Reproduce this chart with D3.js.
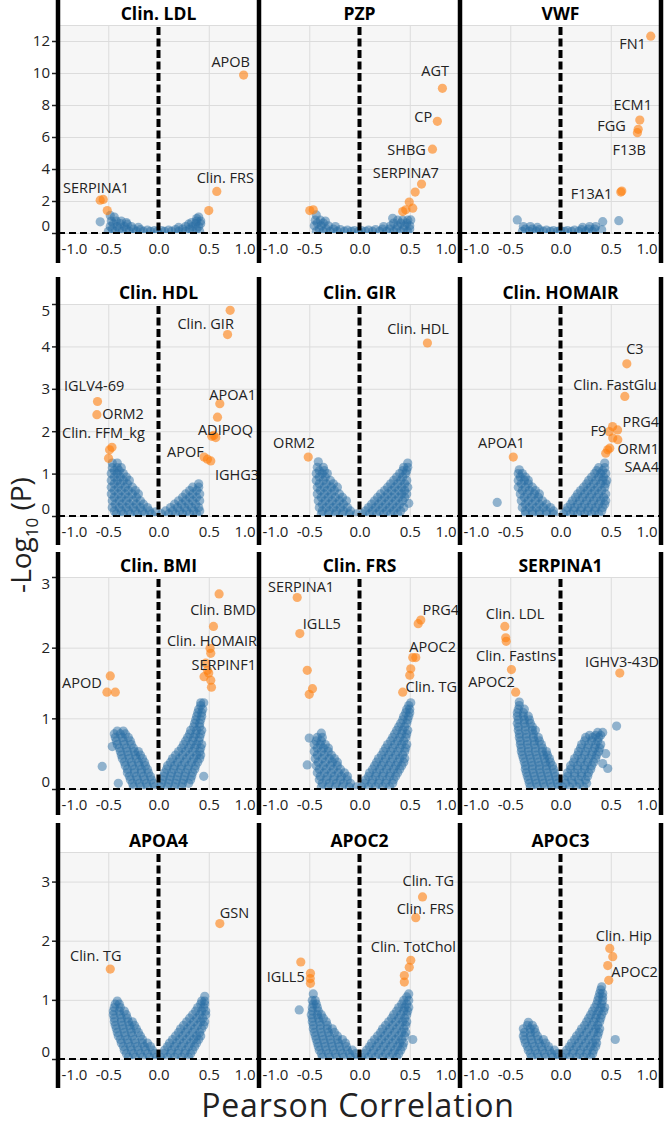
<!DOCTYPE html>
<html><head><meta charset="utf-8">
<script src="https://cdn.jsdelivr.net/npm/d3@7"></script>
<style>body{margin:0;background:#fff}</style>
</head><body><svg id="c" width="666" height="1126"></svg>
<script>
// ---------- DATA ----------
const panelTitles = ["Clin. LDL","PZP","VWF","Clin. HDL","Clin. GIR","Clin. HOMAIR","Clin. BMI","Clin. FRS","SERPINA1","APOA4","APOC2","APOC3"];
const rowYMax = [13,5,3,3.5];
const rowYTicks = [[0,2,4,6,8,10,12],[0,1,2,3,4,5],[0,1,2,3],[0,1,2,3]];
const xTicks = [-1,-0.5,0,0.5,1];
const xTickLabels = ["-1.0","-0.5","0.0","0.5","1.0"];
const xTitle = "Pearson Correlation";

// non-significant proteins [r, -log10 p]
const blueLDL = [[-0.5,0.1],[-0.43,0.1],[-0.36,0.1],[-0.29,0.1],[-0.22,0.1],[-0.15,0.1],[-0.08,0.1],[-0.01,0.1],[0.06,0.1],[0.13,0.1],[0.2,0.1],[0.27,0.1],[0.34,0.1],[0.41,0.1],
  [-0.46,0.25],[-0.39,0.25],[-0.32,0.25],[-0.25,0.25],[-0.18,0.22],[-0.11,0.18],[-0.04,0.15],[0.03,0.15],[0.1,0.18],[0.17,0.22],[0.24,0.25],[0.31,0.25],[0.38,0.25],
  [-0.48,0.4],[-0.41,0.4],[-0.34,0.4],[-0.27,0.4],[-0.2,0.35],[0.2,0.35],[0.27,0.4],[0.34,0.4],[0.4,0.4],
  [-0.45,0.58],[-0.38,0.58],[-0.31,0.55],[0.3,0.55],[0.37,0.58],[0.42,0.58],
  [-0.47,0.75],[-0.42,0.75],[-0.37,0.75],[-0.32,0.65],[0.33,0.65],[0.38,0.75],[0.42,0.75],
  [-0.58,0.7],[-0.48,1.1],[0.4,1.0],[0.38,0.9],[-0.44,1.0]];
const bluePZP = [[-0.43,0.1],[-0.36,0.1],[-0.29,0.1],[-0.22,0.1],[-0.15,0.1],[-0.08,0.1],[-0.01,0.1],[0.06,0.1],[0.13,0.1],[0.2,0.1],[0.27,0.1],[0.34,0.1],[0.41,0.1],[0.48,0.1],
  [-0.4,0.25],[-0.33,0.25],[-0.26,0.25],[-0.19,0.22],[-0.12,0.18],[-0.05,0.15],[0.02,0.15],[0.09,0.18],[0.16,0.22],[0.23,0.25],[0.3,0.25],[0.37,0.25],[0.44,0.25],[0.5,0.25],
  [-0.45,0.45],[-0.38,0.45],[-0.31,0.45],[-0.24,0.4],[0.24,0.4],[0.31,0.45],[0.38,0.45],[0.45,0.45],[0.5,0.45],
  [-0.42,0.62],[-0.36,0.62],[0.34,0.62],[0.41,0.62],[0.47,0.62],
  [-0.44,0.8],[-0.39,0.8],[-0.34,0.75],[0.38,0.8],[0.43,0.8],[0.48,0.8],
  [-0.43,1.13],[0.33,0.92],[0.51,0.82]];
const blueVWF = [[-0.38,0.1],[-0.31,0.1],[-0.24,0.1],[-0.17,0.1],[-0.1,0.1],[-0.03,0.1],[0.04,0.1],[0.11,0.1],[0.18,0.1],[0.25,0.1],[0.32,0.1],
  [-0.35,0.25],[-0.28,0.25],[-0.21,0.22],[-0.14,0.18],[-0.07,0.15],[0.0,0.15],[0.07,0.15],[0.14,0.18],[0.21,0.22],[0.28,0.25],[0.34,0.25],
  [-0.37,0.4],[-0.3,0.4],[-0.23,0.35],[0.22,0.35],[0.29,0.4],[0.35,0.4],
  [-0.43,0.82],[0.42,0.71],[0.58,0.77],[0.41,0.2]];
const blueHDL = [[-0.42,0.05],[-0.35,0.05],[-0.28,0.05],[-0.21,0.05],[-0.14,0.05],[-0.07,0.05],
  [-0.44,0.12],[-0.37,0.12],[-0.3,0.12],[-0.23,0.12],[-0.16,0.12],[-0.09,0.12],[-0.03,0.1],
  [-0.46,0.2],[-0.39,0.2],[-0.32,0.2],[-0.25,0.2],[-0.18,0.2],[-0.11,0.2],
  [-0.43,0.28],[-0.36,0.28],[-0.29,0.28],[-0.22,0.28],[-0.15,0.28],
  [-0.46,0.36],[-0.39,0.36],[-0.32,0.36],[-0.25,0.36],[-0.18,0.36],
  [-0.44,0.44],[-0.37,0.44],[-0.3,0.44],[-0.22,0.44],
  [-0.47,0.52],[-0.4,0.52],[-0.33,0.52],[-0.26,0.52],[-0.2,0.52],
  [-0.44,0.6],[-0.37,0.6],[-0.3,0.6],[-0.23,0.6],
  [-0.47,0.68],[-0.4,0.68],[-0.33,0.68],[-0.26,0.68],
  [-0.44,0.76],[-0.38,0.76],[-0.31,0.76],
  [-0.47,0.84],[-0.41,0.84],[-0.35,0.84],[-0.29,0.84],
  [-0.44,0.92],[-0.38,0.92],[-0.32,0.92],
  [-0.47,1.0],[-0.41,1.0],[-0.35,1.0],
  [-0.44,1.07],[-0.39,1.07],
  [-0.46,1.14],[-0.41,1.14],[-0.37,1.14],
  [-0.46,1.25],[-0.41,1.25],
  [0.03,0.05],[0.1,0.05],[0.17,0.05],[0.24,0.05],[0.31,0.05],[0.38,0.05],
  [0.07,0.12],[0.14,0.12],[0.21,0.12],[0.28,0.12],[0.35,0.12],[0.41,0.12],
  [0.12,0.2],[0.19,0.2],[0.26,0.2],[0.33,0.2],[0.4,0.2],
  [0.16,0.28],[0.23,0.28],[0.3,0.28],[0.37,0.28],
  [0.2,0.36],[0.27,0.36],[0.34,0.36],[0.41,0.36],
  [0.24,0.44],[0.31,0.44],[0.38,0.44],
  [0.27,0.52],[0.34,0.52],[0.41,0.52],
  [0.31,0.6],[0.38,0.6],
  [0.34,0.68],[0.4,0.68],[0.4,0.76]];
const blueGIR = [[-0.38,0.05],[-0.31,0.05],[-0.24,0.05],[-0.17,0.05],[-0.1,0.05],[-0.03,0.05],
  [-0.37,0.12],[-0.3,0.12],[-0.23,0.12],[-0.16,0.12],[-0.09,0.12],
  [-0.4,0.2],[-0.33,0.2],[-0.26,0.2],[-0.19,0.2],[-0.12,0.2],
  [-0.37,0.28],[-0.3,0.28],[-0.23,0.28],[-0.16,0.28],
  [-0.41,0.36],[-0.34,0.36],[-0.27,0.36],[-0.2,0.36],[-0.13,0.36],
  [-0.38,0.44],[-0.31,0.44],[-0.24,0.44],[-0.17,0.44],
  [-0.42,0.52],[-0.35,0.52],[-0.28,0.52],[-0.2,0.52],
  [-0.39,0.6],[-0.32,0.6],[-0.25,0.6],
  [-0.42,0.68],[-0.35,0.68],[-0.28,0.68],[-0.22,0.68],
  [-0.4,0.76],[-0.33,0.76],[-0.26,0.76],
  [-0.43,0.84],[-0.36,0.84],[-0.29,0.84],
  [-0.4,0.92],[-0.34,0.92],
  [-0.43,1.0],[-0.37,1.0],[-0.32,1.0],
  [-0.4,1.07],[-0.35,1.07],
  [-0.42,1.15],[-0.36,1.15],[-0.41,1.28],
  [0.03,0.05],[0.1,0.05],[0.17,0.05],[0.24,0.05],[0.31,0.05],[0.38,0.05],
  [0.06,0.12],[0.13,0.12],[0.2,0.12],[0.27,0.12],[0.34,0.12],[0.41,0.12],
  [0.09,0.2],[0.16,0.2],[0.23,0.2],[0.3,0.2],[0.37,0.2],[0.44,0.2],
  [0.12,0.28],[0.19,0.28],[0.26,0.28],[0.33,0.28],[0.4,0.28],[0.49,0.3],
  [0.15,0.36],[0.22,0.36],[0.29,0.36],[0.36,0.36],[0.43,0.36],
  [0.18,0.44],[0.25,0.44],[0.32,0.44],[0.39,0.44],[0.45,0.44],
  [0.21,0.52],[0.28,0.52],[0.35,0.52],[0.42,0.52],[0.47,0.52],
  [0.25,0.6],[0.32,0.6],[0.39,0.6],[0.45,0.6],
  [0.28,0.68],[0.35,0.68],[0.42,0.68],[0.48,0.68],
  [0.31,0.76],[0.38,0.76],[0.45,0.76],
  [0.34,0.84],[0.41,0.84],[0.47,0.84],
  [0.37,0.92],[0.43,0.92],
  [0.4,1.0],[0.46,1.0],[0.43,1.07],[0.47,1.07],
  [0.44,1.15],[0.48,1.15],[0.48,1.25]];
const blueHOMAIR = [[-0.35,0.05],[-0.28,0.05],[-0.21,0.05],[-0.14,0.05],[-0.07,0.05],
  [-0.35,0.12],[-0.28,0.12],[-0.21,0.12],[-0.14,0.12],[-0.07,0.12],
  [-0.38,0.2],[-0.31,0.2],[-0.24,0.2],[-0.17,0.2],[-0.1,0.2],
  [-0.35,0.28],[-0.28,0.28],[-0.21,0.28],[-0.14,0.28],
  [-0.39,0.36],[-0.32,0.36],[-0.25,0.36],[-0.18,0.36],
  [-0.36,0.44],[-0.29,0.44],[-0.22,0.44],
  [-0.4,0.52],[-0.33,0.52],[-0.26,0.52],[-0.21,0.52],
  [-0.38,0.6],[-0.31,0.6],[-0.25,0.6],
  [-0.42,0.68],[-0.35,0.68],[-0.28,0.68],
  [-0.39,0.76],[-0.32,0.76],
  [-0.42,0.84],[-0.36,0.84],[-0.32,0.84],
  [-0.4,0.92],[-0.35,0.92],
  [-0.42,1.0],[-0.38,1.0],[-0.41,1.09],[-0.63,0.32],
  [0.03,0.05],[0.1,0.05],[0.17,0.05],[0.24,0.05],[0.31,0.05],[0.38,0.05],
  [0.06,0.12],[0.13,0.12],[0.2,0.12],[0.27,0.12],[0.34,0.12],[0.41,0.12],
  [0.07,0.2],[0.14,0.2],[0.21,0.2],[0.28,0.2],[0.35,0.2],[0.42,0.2],
  [0.1,0.28],[0.17,0.28],[0.24,0.28],[0.31,0.28],[0.38,0.28],[0.44,0.28],
  [0.12,0.36],[0.19,0.36],[0.26,0.36],[0.33,0.36],[0.4,0.36],[0.45,0.36],
  [0.15,0.44],[0.22,0.44],[0.29,0.44],[0.36,0.44],[0.43,0.44],
  [0.17,0.52],[0.24,0.52],[0.31,0.52],[0.38,0.52],[0.45,0.52],
  [0.2,0.6],[0.27,0.6],[0.34,0.6],[0.41,0.6],
  [0.23,0.68],[0.3,0.68],[0.37,0.68],[0.44,0.68],
  [0.26,0.76],[0.33,0.76],[0.4,0.76],[0.45,0.76],
  [0.28,0.84],[0.35,0.84],[0.42,0.84],[0.46,0.84],
  [0.31,0.92],[0.38,0.92],[0.43,0.92],
  [0.34,1.0],[0.4,1.0],[0.45,1.0],
  [0.36,1.07],[0.42,1.07],
  [0.38,1.14],[0.44,1.14],[0.44,1.25]];
const blueBMI = [[-0.25,0.03],[-0.18,0.03],[-0.11,0.03],[-0.04,0.03],
  [-0.26,0.08],[-0.19,0.08],[-0.12,0.08],[-0.05,0.08],
  [-0.28,0.13],[-0.21,0.13],[-0.14,0.13],[-0.07,0.13],
  [-0.29,0.18],[-0.22,0.18],[-0.15,0.18],[-0.08,0.18],
  [-0.31,0.23],[-0.24,0.23],[-0.17,0.23],[-0.1,0.23],
  [-0.31,0.28],[-0.24,0.28],[-0.17,0.28],[-0.11,0.28],
  [-0.33,0.33],[-0.26,0.33],[-0.19,0.33],[-0.13,0.33],
  [-0.34,0.38],[-0.27,0.38],[-0.2,0.38],[-0.14,0.38],
  [-0.36,0.43],[-0.29,0.43],[-0.22,0.43],[-0.16,0.43],
  [-0.37,0.48],[-0.3,0.48],[-0.23,0.48],[-0.18,0.48],
  [-0.38,0.53],[-0.31,0.53],[-0.24,0.53],[-0.2,0.53],
  [-0.39,0.58],[-0.32,0.58],[-0.25,0.58],
  [-0.41,0.63],[-0.34,0.63],[-0.27,0.63],
  [-0.42,0.68],[-0.35,0.68],[-0.28,0.68],
  [-0.43,0.73],[-0.36,0.73],[-0.3,0.73],
  [-0.44,0.78],[-0.38,0.78],[-0.33,0.78],
  [-0.41,0.82],[-0.35,0.82],
  [-0.56,0.32],[-0.4,0.08],[-0.46,0.6],
  [0.02,0.03],[0.09,0.03],[0.16,0.03],[0.23,0.03],
  [0.03,0.08],[0.1,0.08],[0.17,0.08],[0.24,0.08],[0.3,0.08],
  [0.04,0.13],[0.11,0.13],[0.18,0.13],[0.25,0.13],[0.32,0.13],
  [0.05,0.18],[0.12,0.18],[0.19,0.18],[0.26,0.18],[0.33,0.18],
  [0.06,0.23],[0.13,0.23],[0.2,0.23],[0.27,0.23],[0.34,0.23],
  [0.08,0.28],[0.15,0.28],[0.22,0.28],[0.29,0.28],[0.36,0.28],
  [0.09,0.33],[0.16,0.33],[0.23,0.33],[0.3,0.33],[0.37,0.33],
  [0.12,0.38],[0.19,0.38],[0.26,0.38],[0.33,0.38],[0.39,0.38],
  [0.14,0.43],[0.21,0.43],[0.28,0.43],[0.35,0.43],[0.41,0.43],
  [0.17,0.48],[0.24,0.48],[0.31,0.48],[0.38,0.48],[0.42,0.48],
  [0.2,0.53],[0.27,0.53],[0.34,0.53],[0.41,0.53],
  [0.23,0.58],[0.3,0.58],[0.36,0.58],[0.42,0.58],
  [0.25,0.63],[0.32,0.63],[0.38,0.63],[0.43,0.63],
  [0.27,0.68],[0.34,0.68],[0.4,0.68],
  [0.29,0.73],[0.35,0.73],[0.41,0.73],
  [0.31,0.78],[0.37,0.78],[0.42,0.78],
  [0.32,0.83],[0.38,0.83],[0.43,0.83],
  [0.35,0.88],[0.41,0.88],
  [0.36,0.93],[0.41,0.93],
  [0.37,0.98],[0.42,0.98],
  [0.38,1.03],[0.43,1.03],
  [0.39,1.08],[0.43,1.08],
  [0.4,1.13],[0.44,1.13],[0.42,1.18],
  [0.42,1.22],[0.45,1.22],[0.45,0.18]];
const blueFRS = [[-0.38,0.03],[-0.31,0.03],[-0.24,0.03],[-0.17,0.03],[-0.1,0.03],[-0.03,0.03],
  [-0.37,0.08],[-0.3,0.08],[-0.23,0.08],[-0.16,0.08],[-0.09,0.08],
  [-0.4,0.13],[-0.33,0.13],[-0.26,0.13],[-0.19,0.13],[-0.12,0.13],
  [-0.39,0.18],[-0.32,0.18],[-0.25,0.18],[-0.18,0.18],[-0.12,0.18],
  [-0.42,0.23],[-0.35,0.23],[-0.28,0.23],[-0.21,0.23],[-0.15,0.23],
  [-0.4,0.28],[-0.33,0.28],[-0.26,0.28],[-0.19,0.28],
  [-0.43,0.33],[-0.36,0.33],[-0.29,0.33],[-0.22,0.33],
  [-0.41,0.38],[-0.34,0.38],[-0.27,0.38],[-0.22,0.38],
  [-0.44,0.43],[-0.37,0.43],[-0.3,0.43],[-0.25,0.43],
  [-0.42,0.48],[-0.35,0.48],[-0.28,0.48],
  [-0.45,0.53],[-0.38,0.53],[-0.31,0.53],
  [-0.42,0.58],[-0.36,0.58],[-0.31,0.58],
  [-0.45,0.63],[-0.39,0.63],[-0.34,0.63],
  [-0.43,0.68],[-0.38,0.68],
  [-0.5,0.72],[-0.42,0.73],[-0.37,0.73],
  [-0.52,0.34],[-0.38,0.79],
  [0.02,0.03],[0.09,0.03],[0.16,0.03],[0.23,0.03],[0.3,0.03],
  [0.05,0.08],[0.12,0.08],[0.19,0.08],[0.26,0.08],[0.33,0.08],
  [0.06,0.13],[0.13,0.13],[0.2,0.13],[0.27,0.13],[0.34,0.13],
  [0.09,0.18],[0.16,0.18],[0.23,0.18],[0.3,0.18],[0.36,0.18],
  [0.1,0.23],[0.17,0.23],[0.24,0.23],[0.31,0.23],[0.38,0.23],
  [0.13,0.28],[0.2,0.28],[0.27,0.28],[0.34,0.28],[0.4,0.28],
  [0.15,0.33],[0.22,0.33],[0.29,0.33],[0.36,0.33],[0.42,0.33],
  [0.17,0.38],[0.24,0.38],[0.31,0.38],[0.38,0.38],[0.44,0.38],
  [0.19,0.43],[0.26,0.43],[0.33,0.43],[0.4,0.43],[0.45,0.43],
  [0.22,0.48],[0.29,0.48],[0.36,0.48],[0.43,0.48],
  [0.24,0.53],[0.31,0.53],[0.38,0.53],[0.45,0.53],
  [0.26,0.58],[0.33,0.58],[0.4,0.58],[0.46,0.58],
  [0.28,0.63],[0.35,0.63],[0.42,0.63],[0.47,0.63],
  [0.31,0.68],[0.38,0.68],[0.44,0.68],
  [0.33,0.73],[0.4,0.73],[0.46,0.73],
  [0.35,0.78],[0.42,0.78],[0.47,0.78],
  [0.37,0.83],[0.43,0.83],[0.48,0.83],
  [0.39,0.88],[0.45,0.88],
  [0.41,0.93],[0.47,0.93],
  [0.43,0.98],[0.48,0.98],
  [0.44,1.03],[0.49,1.03],
  [0.46,1.08],[0.5,1.08],
  [0.47,1.13],[0.5,1.13],[0.49,1.18],[0.51,1.22]];
const blueSERPINA1 = [[-0.3,0.03],[-0.23,0.03],[-0.16,0.03],[-0.09,0.03],[-0.02,0.03],
  [-0.31,0.08],[-0.24,0.08],[-0.17,0.08],[-0.1,0.08],[-0.03,0.08],
  [-0.32,0.13],[-0.25,0.13],[-0.18,0.13],[-0.11,0.13],[-0.04,0.13],
  [-0.33,0.18],[-0.26,0.18],[-0.19,0.18],[-0.12,0.18],[-0.05,0.18],
  [-0.34,0.23],[-0.27,0.23],[-0.2,0.23],[-0.13,0.23],[-0.06,0.23],
  [-0.35,0.28],[-0.28,0.28],[-0.21,0.28],[-0.14,0.28],[-0.07,0.28],
  [-0.35,0.33],[-0.28,0.33],[-0.21,0.33],[-0.14,0.33],[-0.08,0.33],
  [-0.36,0.38],[-0.29,0.38],[-0.22,0.38],[-0.15,0.38],[-0.1,0.38],
  [-0.37,0.43],[-0.3,0.43],[-0.23,0.43],[-0.16,0.43],[-0.11,0.43],
  [-0.38,0.48],[-0.31,0.48],[-0.24,0.48],[-0.17,0.48],[-0.13,0.48],
  [-0.39,0.53],[-0.32,0.53],[-0.25,0.53],[-0.18,0.53],[-0.14,0.53],
  [-0.39,0.58],[-0.32,0.58],[-0.25,0.58],[-0.18,0.58],
  [-0.4,0.63],[-0.33,0.63],[-0.26,0.63],[-0.19,0.63],
  [-0.4,0.68],[-0.33,0.68],[-0.26,0.68],[-0.21,0.68],
  [-0.41,0.73],[-0.34,0.73],[-0.27,0.73],[-0.22,0.73],
  [-0.41,0.78],[-0.34,0.78],[-0.27,0.78],
  [-0.42,0.83],[-0.35,0.83],[-0.28,0.83],[-0.25,0.83],
  [-0.42,0.88],[-0.35,0.88],[-0.28,0.88],
  [-0.43,0.93],[-0.36,0.93],[-0.3,0.93],
  [-0.42,0.98],[-0.36,0.98],[-0.31,0.98],
  [-0.43,1.03],[-0.37,1.03],[-0.32,1.03],
  [-0.43,1.08],[-0.37,1.08],
  [-0.42,1.13],[-0.36,1.13],[-0.41,1.18],[-0.41,1.23],
  [0.02,0.03],[0.09,0.03],[0.16,0.03],[0.23,0.03],
  [0.05,0.08],[0.12,0.08],[0.19,0.08],[0.26,0.08],
  [0.04,0.13],[0.11,0.13],[0.18,0.13],[0.25,0.13],
  [0.07,0.18],[0.14,0.18],[0.21,0.18],[0.27,0.18],
  [0.07,0.23],[0.14,0.23],[0.21,0.23],[0.28,0.23],
  [0.1,0.28],[0.17,0.28],[0.24,0.28],[0.3,0.28],
  [0.1,0.33],[0.17,0.33],[0.24,0.33],[0.31,0.33],
  [0.13,0.38],[0.2,0.38],[0.27,0.38],[0.33,0.38],
  [0.14,0.43],[0.21,0.43],[0.28,0.43],[0.35,0.43],
  [0.17,0.48],[0.24,0.48],[0.31,0.48],[0.36,0.48],
  [0.18,0.53],[0.25,0.53],[0.32,0.53],[0.38,0.53],
  [0.2,0.58],[0.27,0.58],[0.34,0.58],[0.39,0.58],
  [0.21,0.63],[0.28,0.63],[0.35,0.63],[0.4,0.63],
  [0.24,0.68],[0.31,0.68],[0.37,0.68],
  [0.25,0.73],[0.32,0.73],[0.38,0.73],
  [0.29,0.76],[0.35,0.76],[0.4,0.76],
  [0.37,0.8],[0.42,0.8],
  [0.558,0.89],[0.47,0.29],[0.42,0.36],[0.45,0.5]];
const blueAPOA4 = [[-0.3,0.03],[-0.23,0.03],[-0.16,0.03],[-0.09,0.03],[-0.02,0.03],
  [-0.32,0.09],[-0.25,0.09],[-0.18,0.09],[-0.11,0.09],[-0.04,0.09],
  [-0.34,0.15],[-0.27,0.15],[-0.2,0.15],[-0.13,0.15],[-0.06,0.15],
  [-0.35,0.21],[-0.28,0.21],[-0.21,0.21],[-0.14,0.21],[-0.08,0.21],
  [-0.37,0.27],[-0.3,0.27],[-0.23,0.27],[-0.16,0.27],[-0.11,0.27],
  [-0.38,0.33],[-0.31,0.33],[-0.24,0.33],[-0.16,0.33],
  [-0.4,0.39],[-0.33,0.39],[-0.26,0.39],[-0.18,0.39],
  [-0.41,0.45],[-0.34,0.45],[-0.27,0.45],[-0.2,0.45],
  [-0.42,0.51],[-0.35,0.51],[-0.28,0.51],[-0.22,0.51],
  [-0.43,0.57],[-0.36,0.57],[-0.29,0.57],[-0.24,0.57],
  [-0.44,0.63],[-0.37,0.63],[-0.3,0.63],[-0.26,0.63],
  [-0.44,0.69],[-0.37,0.69],[-0.31,0.69],
  [-0.45,0.75],[-0.38,0.75],[-0.32,0.75],
  [-0.45,0.81],[-0.39,0.81],[-0.34,0.81],
  [-0.44,0.87],[-0.38,0.87],
  [-0.43,0.93],[-0.39,0.93],[-0.41,0.98],
  [0.02,0.03],[0.09,0.03],[0.16,0.03],[0.23,0.03],[0.3,0.03],
  [0.05,0.09],[0.12,0.09],[0.19,0.09],[0.26,0.09],[0.32,0.09],
  [0.06,0.15],[0.13,0.15],[0.2,0.15],[0.27,0.15],[0.34,0.15],
  [0.09,0.21],[0.16,0.21],[0.23,0.21],[0.3,0.21],[0.36,0.21],
  [0.11,0.27],[0.18,0.27],[0.25,0.27],[0.32,0.27],[0.38,0.27],
  [0.14,0.33],[0.21,0.33],[0.28,0.33],[0.35,0.33],[0.4,0.33],
  [0.17,0.39],[0.24,0.39],[0.31,0.39],[0.38,0.39],[0.42,0.39],
  [0.2,0.45],[0.27,0.45],[0.34,0.45],[0.41,0.45],
  [0.22,0.51],[0.29,0.51],[0.36,0.51],[0.43,0.51],
  [0.25,0.57],[0.32,0.57],[0.39,0.57],[0.45,0.57],
  [0.28,0.63],[0.35,0.63],[0.42,0.63],[0.46,0.63],
  [0.31,0.69],[0.38,0.69],[0.44,0.69],
  [0.34,0.75],[0.41,0.75],[0.47,0.75],
  [0.37,0.81],[0.43,0.81],[0.47,0.81],
  [0.39,0.87],[0.45,0.87],
  [0.42,0.93],[0.46,0.93],
  [0.43,0.98],[0.46,0.98],[0.46,1.06]];
const blueAPOC2 = [[-0.37,0.03],[-0.3,0.03],[-0.23,0.03],[-0.16,0.03],[-0.09,0.03],[-0.02,0.03],
  [-0.38,0.09],[-0.31,0.09],[-0.24,0.09],[-0.17,0.09],[-0.1,0.09],[-0.04,0.09],
  [-0.4,0.15],[-0.33,0.15],[-0.26,0.15],[-0.19,0.15],[-0.12,0.15],[-0.07,0.15],
  [-0.41,0.21],[-0.34,0.21],[-0.27,0.21],[-0.2,0.21],[-0.13,0.21],
  [-0.42,0.27],[-0.35,0.27],[-0.28,0.27],[-0.21,0.27],[-0.14,0.27],
  [-0.43,0.33],[-0.36,0.33],[-0.29,0.33],[-0.22,0.33],[-0.17,0.33],
  [-0.44,0.39],[-0.37,0.39],[-0.3,0.39],[-0.22,0.39],
  [-0.45,0.45],[-0.38,0.45],[-0.31,0.45],[-0.25,0.45],
  [-0.46,0.51],[-0.39,0.51],[-0.32,0.51],[-0.27,0.51],
  [-0.46,0.57],[-0.39,0.57],[-0.32,0.57],
  [-0.47,0.63],[-0.4,0.63],[-0.33,0.63],
  [-0.47,0.69],[-0.41,0.69],[-0.36,0.69],
  [-0.48,0.75],[-0.42,0.75],[-0.38,0.75],
  [-0.47,0.81],[-0.41,0.81],
  [-0.47,0.87],[-0.42,0.87],
  [-0.46,0.93],[-0.43,0.93],
  [-0.47,0.99],[-0.44,0.99],[-0.46,1.1],[-0.6,0.83],
  [0.02,0.03],[0.09,0.03],[0.16,0.03],[0.23,0.03],[0.3,0.03],[0.37,0.03],
  [0.05,0.09],[0.12,0.09],[0.19,0.09],[0.26,0.09],[0.33,0.09],[0.39,0.09],
  [0.07,0.15],[0.14,0.15],[0.21,0.15],[0.28,0.15],[0.35,0.15],[0.41,0.15],
  [0.1,0.21],[0.17,0.21],[0.24,0.21],[0.31,0.21],[0.38,0.21],[0.43,0.21],
  [0.12,0.27],[0.19,0.27],[0.26,0.27],[0.33,0.27],[0.4,0.27],[0.44,0.27],
  [0.15,0.33],[0.22,0.33],[0.29,0.33],[0.36,0.33],[0.42,0.33],
  [0.18,0.39],[0.25,0.39],[0.32,0.39],[0.39,0.39],[0.45,0.39],
  [0.21,0.45],[0.28,0.45],[0.35,0.45],[0.42,0.45],[0.46,0.45],
  [0.23,0.51],[0.3,0.51],[0.37,0.51],[0.44,0.51],
  [0.26,0.57],[0.33,0.57],[0.4,0.57],[0.46,0.57],
  [0.29,0.63],[0.36,0.63],[0.43,0.63],[0.47,0.63],
  [0.32,0.69],[0.39,0.69],[0.45,0.69],
  [0.34,0.75],[0.41,0.75],[0.47,0.75],
  [0.37,0.81],[0.44,0.81],[0.48,0.81],
  [0.39,0.87],[0.45,0.87],[0.49,0.87],
  [0.42,0.93],[0.47,0.93],
  [0.44,0.99],[0.49,0.99],[0.47,1.05],[0.49,1.1],[0.53,0.33]];
const blueAPOC3 = [[-0.29,0.03],[-0.22,0.03],[-0.15,0.03],[-0.08,0.03],[-0.02,0.03],
  [-0.3,0.09],[-0.23,0.09],[-0.16,0.09],[-0.09,0.09],[-0.03,0.09],
  [-0.32,0.15],[-0.25,0.15],[-0.18,0.15],[-0.11,0.15],[-0.06,0.15],
  [-0.33,0.21],[-0.26,0.21],[-0.19,0.21],[-0.12,0.21],
  [-0.35,0.27],[-0.28,0.27],[-0.21,0.27],[-0.15,0.27],
  [-0.36,0.33],[-0.29,0.33],[-0.22,0.33],[-0.17,0.33],
  [-0.37,0.39],[-0.3,0.39],[-0.23,0.39],
  [-0.36,0.45],[-0.3,0.45],[-0.25,0.45],
  [-0.37,0.51],[-0.3,0.51],[-0.26,0.51],
  [-0.33,0.57],[-0.28,0.57],[-0.32,0.62],
  [0.02,0.03],[0.09,0.03],[0.16,0.03],[0.23,0.03],[0.3,0.03],
  [0.05,0.09],[0.12,0.09],[0.19,0.09],[0.26,0.09],[0.32,0.09],
  [0.06,0.15],[0.13,0.15],[0.2,0.15],[0.27,0.15],[0.33,0.15],
  [0.09,0.21],[0.16,0.21],[0.23,0.21],[0.3,0.21],[0.35,0.21],
  [0.11,0.27],[0.18,0.27],[0.25,0.27],[0.32,0.27],[0.36,0.27],
  [0.14,0.33],[0.21,0.33],[0.28,0.33],[0.35,0.33],
  [0.16,0.39],[0.23,0.39],[0.3,0.39],[0.37,0.39],
  [0.19,0.45],[0.26,0.45],[0.33,0.45],[0.38,0.45],
  [0.21,0.51],[0.28,0.51],[0.35,0.51],[0.39,0.51],
  [0.24,0.57],[0.31,0.57],[0.37,0.57],
  [0.26,0.63],[0.33,0.63],[0.39,0.63],
  [0.28,0.69],[0.35,0.69],[0.4,0.69],
  [0.3,0.75],[0.36,0.75],[0.41,0.75],
  [0.32,0.81],[0.38,0.81],[0.43,0.81],
  [0.34,0.87],[0.4,0.87],[0.44,0.87],
  [0.36,0.93],[0.41,0.93],
  [0.37,0.99],[0.42,0.99],
  [0.38,1.05],[0.42,1.05],
  [0.39,1.11],[0.42,1.11],[0.4,1.17],[0.41,1.22],[0.545,0.33]];

// significant proteins [r, -log10 p]
const sigLDL = [[-0.58,2.05],[-0.55,2.1],[-0.51,1.4],[0.50,1.4],[0.58,2.6],[0.847,9.87]];
const sigPZP = [[0.825,9.04],[0.775,6.98],[0.726,5.24],[0.617,3.06],[0.554,2.56],[0.495,1.93],[0.46,1.45],[0.53,1.55],[0.43,1.34],[-0.495,1.40],[-0.46,1.45]];
const sigVWF = [[0.898,12.3],[0.789,7.06],[0.773,6.48],[0.765,6.27],[0.60,2.56],[0.61,2.62]];
const sigHDL = [[0.713,4.85],[0.687,4.28],[-0.607,2.70],[-0.613,2.39],[-0.463,1.62],[-0.487,1.56],[-0.497,1.36],[0.61,2.65],[0.587,2.33],[0.55,1.9],[0.57,1.85],[0.53,1.88],[0.453,1.39],[0.487,1.34],[0.52,1.30]];
const sigGIR = [[0.676,4.08],[-0.51,1.39]];
const sigHOMAIR = [[0.66,3.59],[0.64,2.82],[0.518,2.11],[0.568,2.03],[0.485,1.99],[0.52,1.84],[0.57,1.80],[0.47,1.56],[0.45,1.48],[0.49,1.6],[-0.47,1.39]];
const sigBMI = [[0.603,2.76],[0.547,2.30],[0.513,1.99],[0.52,1.92],[0.47,1.78],[0.487,1.68],[0.453,1.59],[0.52,1.54],[0.527,1.44],[0.5,1.64],[-0.48,1.60],[-0.513,1.37],[-0.43,1.37]];
const sigFRS = [[-0.62,2.71],[-0.594,2.20],[-0.52,1.68],[-0.468,1.42],[-0.50,1.34],[0.61,2.39],[0.584,2.34],[0.56,1.86],[0.53,1.86],[0.51,1.70],[0.50,1.61],[0.43,1.37]];
const sigSERPINA1 = [[-0.554,2.30],[-0.545,2.14],[-0.54,2.09],[-0.488,1.69],[-0.446,1.37],[0.59,1.64]];
const sigAPOA4 = [[0.61,2.29],[-0.48,1.52]];
const sigAPOC2 = [[0.627,2.74],[0.56,2.39],[0.51,1.67],[0.495,1.55],[0.446,1.41],[0.446,1.30],[-0.584,1.64],[-0.488,1.45],[-0.49,1.36],[-0.488,1.28]];
const sigAPOC3 = [[0.49,1.87],[0.52,1.73],[0.47,1.58],[0.48,1.33]];

// annotation labels [text, r, -log10 p, anchor]
const labLDL = [["APOB",0.91,10.7,"end"],["Clin. FRS",0.95,3.46,"end"],["SERPINA1",-0.95,2.81,"start"]];
const labPZP = [["AGT",0.89,10.15,"end"],["CP",0.723,7.23,"end"],["SHBG",0.66,5.22,"end"],["SERPINA7",0.79,3.77,"end"]];
const labVWF = [["FN1",0.85,11.82,"end"],["ECM1",0.91,7.99,"end"],["FGG",0.65,6.67,"end"],["F13B",0.85,5.22,"end"],["F13A1",0.515,2.45,"end"]];
const labHDL = [["Clin. GIR",0.75,4.52,"end"],["IGLV4-69",-0.94,3.06,"start"],["ORM2",-0.56,2.41,"start"],["Clin. FFM_kg",-0.96,1.96,"start"],["APOA1",0.97,2.86,"end"],["ADIPOQ",0.94,2.03,"end"],["APOF",0.45,1.52,"end"],["IGHG3",1.0,0.97,"end"]];
const labGIR = [["Clin. HDL",0.89,4.42,"end"],["ORM2",-0.446,1.73,"end"]];
const labHOMAIR = [["C3",0.653,3.95,"start"],["Clin. FastGlu",0.96,3.08,"end"],["PRG4",0.98,2.23,"end"],["F9",0.455,2.01,"end"],["ORM1",0.98,1.58,"end"],["SAA4",0.98,1.15,"end"],["APOA1",-0.356,1.73,"end"]];
const labBMI = [["Clin. BMD",0.97,2.54,"end"],["Clin. HOMAIR",0.98,2.09,"end"],["SERPINF1",0.97,1.75,"end"],["APOD",-0.96,1.50,"start"]];
const labFRS = [["SERPINA1",-0.91,2.86,"start"],["IGLL5",-0.564,2.34,"start"],["PRG4",0.99,2.54,"end"],["APOC2",0.96,2.01,"end"],["Clin. TG",0.97,1.44,"end"]];
const labSERPINA1 = [["Clin. LDL",-0.16,2.48,"end"],["Clin. FastIns",-0.04,1.88,"end"],["APOC2",-0.455,1.51,"end"],["IGHV3-43D",0.98,1.80,"end"]];
const labAPOA4 = [["GSN",0.61,2.47,"start"],["Clin. TG",-0.88,1.74,"start"]];
const labAPOC2 = [["Clin. TG",0.94,3.01,"end"],["Clin. FRS",0.94,2.54,"end"],["Clin. TotChol",0.96,1.90,"end"],["IGLL5",-0.545,1.39,"end"]];
const labAPOC3 = [["Clin. Hip",0.91,2.08,"end"],["APOC2",0.505,1.48,"start"]];

const blueSets = [blueLDL,bluePZP,blueVWF,blueHDL,blueGIR,blueHOMAIR,blueBMI,blueFRS,blueSERPINA1,blueAPOA4,blueAPOC2,blueAPOC3];
const sigSets = [sigLDL,sigPZP,sigVWF,sigHDL,sigGIR,sigHOMAIR,sigBMI,sigFRS,sigSERPINA1,sigAPOA4,sigAPOC2,sigAPOC3];
const labSets = [labLDL,labPZP,labVWF,labHDL,labGIR,labHOMAIR,labBMI,labFRS,labSERPINA1,labAPOA4,labAPOC2,labAPOC3];

// ---------- LAYOUT ----------
const FONT = "'Open Sans','DejaVu Sans',sans-serif";
const colLeft = [58,259,460], colW = 201;
const rowTop = [25,304,577,852], rowZero = [233,516,789,1059];
const rowSpan = [[0,263],[277,545],[552,815],[823,1088]];
const svg = d3.select("#c");
const defs = svg.append("defs");

panelTitles.forEach((title,i)=>{
  const row = Math.floor(i/3), col = i%3;
  const x = d3.scaleLinear().domain([-1,1]).range([colLeft[col], colLeft[col]+colW]);
  const y = d3.scaleLinear().domain([0,rowYMax[row]]).range([rowZero[row], rowTop[row]]);
  const g = svg.append("g");
  const top = y(rowYMax[row]), bot = y(0);
  g.append("rect").attr("x",x(-1)).attr("y",top).attr("width",x(1)-x(-1)).attr("height",bot-top).attr("fill","#f6f6f6");
  // grid
  const gy = g.append("g").attr("transform",`translate(${x(-1)},0)`)
    .call(d3.axisLeft(y).tickValues(rowYTicks[row].concat([rowYMax[row]])).tickSize(-(x(1)-x(-1))).tickFormat(""));
  gy.select(".domain").remove();
  gy.selectAll("line").attr("stroke","#dcdcdc").attr("stroke-width",1);
  const gx = g.append("g").attr("transform",`translate(0,${bot})`)
    .call(d3.axisBottom(x).tickValues([-0.5,0.5]).tickSize(-(bot-top)).tickFormat(""));
  gx.select(".domain").remove();
  gx.selectAll("line").attr("stroke","#dcdcdc").attr("stroke-width",1);
  // points
  const cid = "clip"+i;
  defs.append("clipPath").attr("id",cid).append("rect").attr("x",x(-1)).attr("y",top-6).attr("width",x(1)-x(-1)).attr("height",bot-top+6);
  const pg = g.append("g").attr("clip-path",`url(#${cid})`);
  pg.selectAll("circle.b").data(blueSets[i]).join("circle").attr("class","b")
    .attr("cx",d=>x(d[0])).attr("cy",d=>y(d[1])).attr("r",4.6)
    .attr("fill","#2a6ea3").attr("fill-opacity",0.5);
  pg.selectAll("circle.o").data(sigSets[i]).join("circle").attr("class","o")
    .attr("cx",d=>x(d[0])).attr("cy",d=>y(d[1])).attr("r",4.6)
    .attr("fill","#ff7f0e").attr("fill-opacity",0.6);
  // dashed reference lines
  g.append("line").attr("x1",x(0)).attr("x2",x(0)).attr("y1",top+2).attr("y2",bot)
    .attr("stroke","#000").attr("stroke-width",4).attr("stroke-dasharray","8,3.5");
  g.append("line").attr("x1",x(-1)).attr("x2",x(1)).attr("y1",bot).attr("y2",bot)
    .attr("stroke","#000").attr("stroke-width",1.8).attr("stroke-dasharray","7,4");
  // x axis labels
  const ax = g.append("g").attr("transform",`translate(0,${bot})`)
    .call(d3.axisBottom(x).tickValues(xTicks).tickSize(0).tickPadding(10).tickFormat((d,k)=>xTickLabels[k]));
  ax.select(".domain").remove();
  ax.selectAll("text").attr("font-family",FONT).attr("font-size",15).attr("fill","#222")
    .attr("text-anchor",d=>d===-1?"start":d===1?"end":"middle")
    .attr("dx",d=>d===-1?3:d===1?-4:0);
  // y axis labels (first column)
  if(col===0){
    const ay = g.append("g").attr("transform",`translate(${x(-1)},0)`)
      .call(d3.axisLeft(y).tickValues(rowYTicks[row]).tickSize(6).tickPadding(2).tickFormat(d3.format("d")));
    ay.select(".domain").remove();
    ay.selectAll("line").attr("stroke","#222").attr("stroke-width",1.5);
    ay.selectAll("text").attr("font-family",FONT).attr("font-size",15).attr("fill","#222")
      .attr("transform",d=>d===0?"translate(0,-7)":(d===rowYMax[row]?"translate(0,7)":null));
  }
  // labels
  g.selectAll("text.lab").data(labSets[i]).join("text").attr("class","lab")
    .attr("x",d=>x(d[1])).attr("y",d=>y(d[2])).attr("dy","0.35em")
    .attr("text-anchor",d=>d[3]).attr("font-family",FONT).attr("font-size",14.5).attr("fill","#222")
    .text(d=>d[0]);
  // title
  g.append("text").attr("x",x(0)).attr("y",top-11).attr("dy","0.35em").attr("text-anchor","middle")
    .attr("font-family",FONT).attr("font-weight","bold").attr("font-size",17.5).attr("fill","#000").text(title);
});

// thick vertical frame lines
rowSpan.forEach(s=>{
  [58,259,460,661].forEach(xx=>{
    svg.append("line").attr("x1",xx).attr("x2",xx).attr("y1",s[0]).attr("y2",s[1])
      .attr("stroke","#000").attr("stroke-width",4.5);
  });
});

// axis titles
const yt = svg.append("text").attr("transform","translate(31,535) rotate(-90)").attr("text-anchor","middle")
  .attr("font-family",FONT).attr("font-size",28).attr("fill","#222");
yt.append("tspan").text("-Log");
yt.append("tspan").attr("font-size",17).attr("dy",7).text("10");
yt.append("tspan").attr("dy",-7).text(" (P)");
svg.append("text").attr("x",358).attr("y",1117).attr("text-anchor","middle")
  .attr("font-family",FONT).attr("font-size",32).attr("letter-spacing",0.8).attr("fill","#222").text(xTitle);
</script></body></html>
